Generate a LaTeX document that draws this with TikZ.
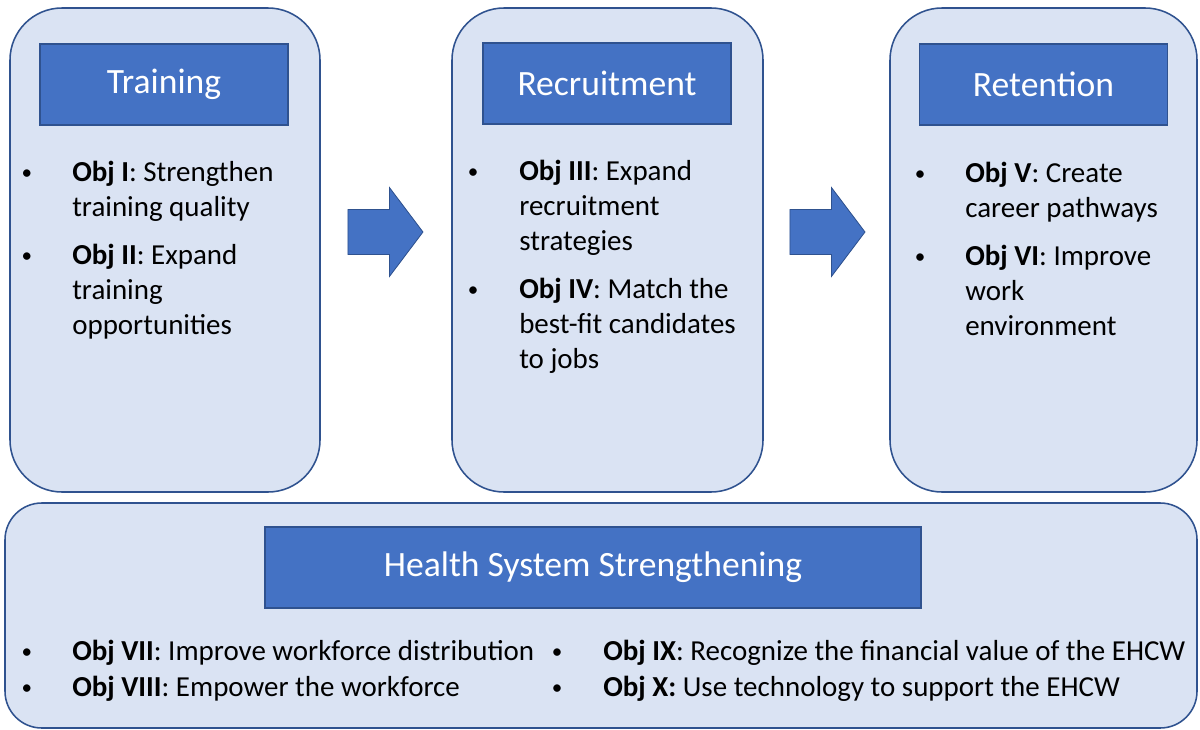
\documentclass[tikz,border=0pt]{standalone}
\usepackage{fontspec}
\setmainfont{Carlito}
\usetikzlibrary{shapes.arrows}

\definecolor{panelfill}{HTML}{DAE3F3}
\definecolor{navy}{HTML}{2F528F}
\definecolor{boxblue}{HTML}{4472C4}

\tikzset{
    panel/.style={draw=navy, fill=panelfill, line width=1.1pt},
    header/.style={draw=navy, fill=boxblue, line width=0.9pt, text=white,
        font=\fontsize{25.3}{30}\selectfont, minimum width=6.2cm, minimum height=2.03cm, inner sep=0pt},
    item/.style={anchor=north west, align=left, inner sep=0pt, font=\fontsize{20.6}{24.9}\selectfont},
    dot/.style={anchor=base, inner sep=0pt, font=\fontsize{15}{24.9}\selectfont},
    bigarrow/.style={single arrow, draw=navy, fill=boxblue, line width=0.6pt, inner xsep=0pt,
        inner ysep=0.55cm, minimum height=1.875cm, minimum width=2.2cm,
        single arrow head extend=0.55cm, single arrow tip angle=106}
}

\begin{document}
\begin{tikzpicture}[x=0.025cm, y=-0.025cm]
        \useasboundingbox (0,0) rectangle (1200,729);

        \draw[panel, rounded corners=1.3cm] (10,8) rectangle (320,492);
        \draw[panel, rounded corners=1.3cm] (452,8) rectangle (763,492);
        \draw[panel, rounded corners=1.3cm] (890,8) rectangle (1197,492);
        \draw[panel, rounded corners=0.92cm] (5,503) rectangle (1197,728);

        \node[header] (training) at (164,84.5) {Training};
        \node[header] (recruitment) at (607,83.5) {Recruitment};
        \node[header] (retention) at (1043.5,84.5) {Retention};
        \node[header, minimum width=16.4cm] (hss) at (593,567.5) {Health System Strengthening};

        \node[bigarrow] (arrowA) at (377,232) {};
        \node[bigarrow] (arrowB) at (819,232) {};

        % training
        \node[dot] (b1) at (27,179) {•};
        \node[item] (obj1) at (72,161) {\textbf{Obj I}: Strengthen\\training quality};
        \node[dot] (b2) at (27,262) {•};
        \node[item] (obj2) at (72,244) {\textbf{Obj II}: Expand\\training\\opportunities};

        % recruitment
        \node[dot] (b3) at (473,178) {•};
        \node[item] (obj3) at (519,160) {\textbf{Obj III}: Expand\\recruitment\\strategies};
        \node[dot] (b4) at (473,296) {•};
        \node[item] (obj4) at (519,278) {\textbf{Obj IV}: Match the\\best-fit candidates\\to jobs};

        % retention
        \node[dot] (b5) at (920,180) {•};
        \node[item] (obj5) at (965,162) {\textbf{Obj V}: Create\\career pathways};
        \node[dot] (b6) at (920,263) {•};
        \node[item] (obj6) at (965,245) {\textbf{Obj VI}: Improve\\work\\environment};

        % health system
        \node[dot] (b7) at (27,658) {•};
        \node[item] (obj7) at (72,640) {\textbf{Obj VII}: Improve workforce distribution};
        \node[dot] (b8) at (27,694) {•};
        \node[item] (obj8) at (72,676) {\textbf{Obj VIII}: Empower the workforce};
        \node[dot] (b9) at (557,658) {•};
        \node[item] (obj9) at (603,640) {\textbf{Obj IX}: Recognize the financial value of the EHCW};
        \node[dot] (b10) at (557,694) {•};
        \node[item] (obj10) at (603,676) {\textbf{Obj X:} Use technology to support the EHCW};
    \end{tikzpicture}
\end{document}
